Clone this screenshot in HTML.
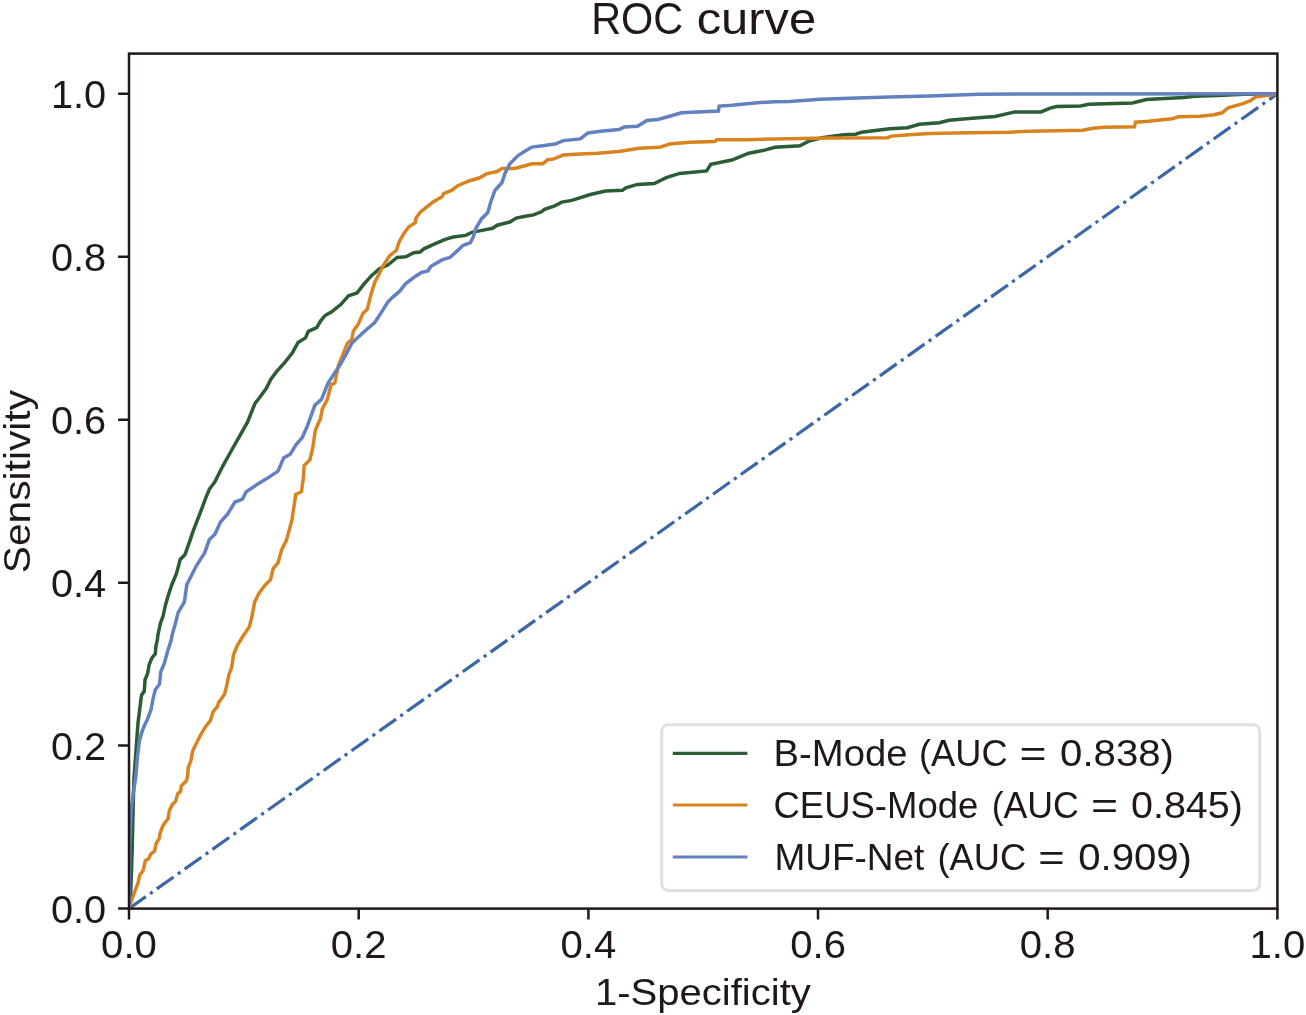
<!DOCTYPE html>
<html><head><meta charset="utf-8"><title>ROC curve</title>
<style>html,body{margin:0;padding:0;background:#fff;}body{width:1306px;height:1015px;overflow:hidden;}svg{display:block;will-change:transform;}</style>
</head><body>
<svg width="1306" height="1015" viewBox="0 0 1306 1015"><defs><clipPath id="ax"><rect x="129.0" y="53.6" width="1148.4" height="855.0"/></clipPath></defs>
<g clip-path="url(#ax)" fill="none" stroke-linejoin="miter" stroke-linecap="butt">
<line x1="129.0" y1="908.6" x2="1277.4" y2="93.8" stroke="#3a67a5" stroke-width="3.2" stroke-dasharray="20.6 5.15 3.2 5.15"/>
<polyline points="129.0,908.6 130.2,900.0 131.2,880.0 132.2,848.7 133.1,809.4 133.9,779.5 136.0,750.5 138.0,722.9 140.1,706.3 141.5,695.2 144.3,691.1 145.0,680.0 147.7,673.1 149.1,664.9 151.9,658.0 155.3,653.8 156.0,645.5 157.4,640.0 157.8,635.5 160.5,623.0 163.1,616.0 165.5,605.0 168.1,596.0 171.8,584.7 176.5,573.5 180.2,559.5 184.9,554.8 189.6,541.7 193.4,530.4 199.9,513.6 205.5,498.6 209.3,489.3 214.9,481.8 222.4,466.8 231.7,450.0 239.2,436.8 247.5,422.2 255.0,403.4 258.7,398.8 266.2,388.5 270.9,379.1 276.5,371.6 284.9,362.3 292.4,352.9 298.0,342.6 305.5,337.9 308.3,331.4 316.7,327.7 320.5,321.1 325.1,315.5 331.7,311.8 341.0,304.3 348.5,295.8 357.0,293.0 363.5,284.6 371.0,276.2 379.4,268.7 387.8,265.0 397.1,257.5 405.8,256.7 413.7,252.8 420.0,252.0 423.9,248.8 434.2,244.1 445.2,239.4 453.1,237.0 465.7,235.4 472.0,232.3 484.6,229.9 492.5,228.3 497.2,225.2 509.9,222.0 516.2,218.1 524.0,216.5 533.5,214.9 541.4,211.8 544.5,209.4 554.0,206.2 561.7,202.1 571.8,200.4 590.4,194.5 605.5,191.1 622.4,190.3 625.8,187.8 637.5,184.4 654.4,183.6 666.2,177.7 679.7,173.4 706.6,170.9 710.8,164.2 731.9,160.0 748.7,153.2 765.6,149.9 775.0,147.3 799.9,145.7 809.8,140.7 821.8,137.7 843.7,134.7 855.6,134.2 861.6,132.2 889.5,128.8 907.4,127.8 919.3,124.2 939.2,122.8 949.2,120.2 969.1,118.4 995.0,116.4 1014.9,111.9 1040.9,111.9 1050.9,107.9 1056.9,106.5 1080.7,105.9 1088.7,104.3 1132.5,102.9 1146.4,99.5 1164.4,98.5 1184.3,97.5 1194.2,96.3 1218.1,95.5 1244.0,94.3 1277.4,93.8" stroke="#2b5c33" stroke-width="3.5"/>
<polyline points="129.0,908.6 131.1,901.7 134.6,891.8 138.2,882.6 139.6,875.5 143.1,870.5 145.4,860.7 148.7,858.6 150.8,854.2 154.6,851.0 156.2,843.4 159.5,838.0 160.0,833.6 162.7,826.1 164.9,822.8 168.2,818.5 169.2,810.9 172.5,804.4 175.7,801.2 177.9,793.6 180.6,791.4 181.2,786.0 186.6,780.6 187.7,775.2 188.2,767.6 190.9,760.5 192.7,750.8 195.3,745.5 200.6,734.8 206.0,725.9 210.4,720.6 213.1,711.8 217.5,706.4 218.4,702.9 224.6,694.0 226.4,686.9 229.0,674.5 231.7,667.4 233.5,655.0 237.0,646.1 242.3,637.3 249.4,626.6 252.1,616.0 254.6,602.1 259.3,592.8 264.9,585.3 270.5,579.7 273.3,568.4 278.0,562.8 281.7,549.7 286.4,540.4 292.0,519.8 293.9,506.7 295.8,494.5 301.4,491.7 303.3,478.6 304.2,465.5 309.8,459.9 312.6,448.7 315.4,430.0 320.5,418.4 322.3,409.0 327.4,399.4 331.1,384.6 334.8,383.1 338.5,365.3 342.2,356.5 347.4,343.2 351.8,339.5 353.3,331.3 358.4,323.9 362.9,313.6 367.3,309.1 371.0,294.4 374.7,282.5 379.2,273.7 382.8,266.3 389.5,255.9 396.3,250.4 399.5,240.9 404.2,233.0 408.9,226.7 415.2,222.8 416.0,218.1 420.0,212.5 427.8,206.2 432.6,202.3 442.0,196.8 443.6,193.6 451.5,190.5 457.8,185.7 468.9,181.0 479.9,177.8 486.2,173.9 497.2,171.5 502.0,168.4 514.6,168.4 524.0,166.0 531.9,163.7 543.0,163.7 547.7,159.7 554.0,158.9 563.4,154.9 580.3,154.1 597.1,153.2 619.0,151.5 639.2,148.2 659.4,147.3 669.6,144.0 689.8,142.3 715.0,141.4 716.7,139.8 747.0,139.8 775.0,138.9 829.7,138.1 887.5,137.7 891.4,136.1 909.4,134.7 929.3,133.4 969.1,132.8 1008.9,132.2 1030.0,131.2 1082.7,130.2 1092.7,128.2 1104.6,127.2 1134.5,126.8 1135.5,122.2 1148.4,121.2 1172.3,118.8 1178.3,116.8 1200.2,116.2 1214.1,114.8 1222.1,112.8 1228.1,107.9 1242.0,103.9 1250.0,100.9 1255.9,96.9 1273.9,94.5 1277.4,93.8" stroke="#d8831f" stroke-width="3.5"/>
<polyline points="129.0,908.6 129.4,880.0 129.7,848.7 131.3,809.4 133.2,793.6 135.8,777.0 137.4,757.4 139.4,740.8 142.2,731.2 145.0,724.3 147.7,718.7 151.2,709.1 153.2,698.0 155.3,689.7 159.5,684.2 160.8,671.8 164.3,663.5 167.7,651.0 171.2,640.0 172.0,635.5 175.5,623.0 178.2,612.4 184.4,601.8 186.8,584.7 196.2,566.0 204.6,552.9 209.3,539.8 214.9,534.2 220.5,522.0 227.5,514.2 235.0,502.0 242.5,499.2 246.2,491.7 257.4,484.3 266.8,478.6 278.0,471.2 283.6,458.1 290.2,454.3 295.8,445.0 302.3,437.5 307.4,425.9 314.9,405.3 321.5,399.4 328.1,383.1 334.8,372.7 340.7,363.9 346.6,353.5 351.8,343.2 362.9,332.8 374.7,322.5 380.6,313.6 388.0,301.8 392.5,297.3 399.5,291.4 405.8,283.5 415.2,276.4 421.5,272.5 427.8,270.9 431.0,266.2 442.0,259.9 449.9,257.5 457.8,250.4 462.5,245.7 470.4,242.5 473.6,236.2 475.9,228.3 481.5,218.9 487.8,212.5 490.9,201.5 494.9,190.5 502.0,182.6 505.1,173.1 509.9,163.7 517.7,155.8 524.0,151.8 531.9,147.1 544.5,145.5 555.0,144.0 563.4,140.6 580.3,138.9 587.9,133.0 600.5,131.3 619.0,129.6 624.1,127.1 637.5,126.3 646.8,120.4 657.8,119.5 669.6,116.2 681.3,112.8 718.4,111.1 719.2,106.1 731.9,105.2 757.2,102.7 775.0,101.8 789.9,101.5 819.8,99.3 849.6,98.3 889.5,96.9 929.3,95.9 979.0,94.3 1030.0,93.9 1277.4,93.8" stroke="#6380c0" stroke-width="3.5"/>
</g>
<rect x="129.0" y="53.6" width="1148.4" height="855.0" fill="none" stroke="#1f1816" stroke-width="2.5"/>
<path d="M129.0 908.6V919.5M129.0 908.6H118.1M358.7 908.6V919.5M129.0 745.6H118.1M588.4 908.6V919.5M129.0 582.7H118.1M818.0 908.6V919.5M129.0 419.7H118.1M1047.7 908.6V919.5M129.0 256.8H118.1M1277.4 908.6V919.5M129.0 93.8H118.1" stroke="#1f1816" stroke-width="2.5" fill="none"/>
<g fill="#1f1816" font-family="'Liberation Sans', sans-serif">
<text x="101.1" y="958.0" font-size="38.5" text-anchor="start" textLength="55.8" lengthAdjust="spacingAndGlyphs" >0.0</text>
<text x="50.9" y="922.6" font-size="38.5" text-anchor="start" textLength="55.2" lengthAdjust="spacingAndGlyphs" >0.0</text>
<text x="330.8" y="958.0" font-size="38.5" text-anchor="start" textLength="55.8" lengthAdjust="spacingAndGlyphs" >0.2</text>
<text x="50.9" y="759.6" font-size="38.5" text-anchor="start" textLength="55.2" lengthAdjust="spacingAndGlyphs" >0.2</text>
<text x="560.5" y="958.0" font-size="38.5" text-anchor="start" textLength="55.8" lengthAdjust="spacingAndGlyphs" >0.4</text>
<text x="50.9" y="596.7" font-size="38.5" text-anchor="start" textLength="55.2" lengthAdjust="spacingAndGlyphs" >0.4</text>
<text x="790.2" y="958.0" font-size="38.5" text-anchor="start" textLength="55.8" lengthAdjust="spacingAndGlyphs" >0.6</text>
<text x="50.9" y="433.7" font-size="38.5" text-anchor="start" textLength="55.2" lengthAdjust="spacingAndGlyphs" >0.6</text>
<text x="1019.8" y="958.0" font-size="38.5" text-anchor="start" textLength="55.8" lengthAdjust="spacingAndGlyphs" >0.8</text>
<text x="50.9" y="270.8" font-size="38.5" text-anchor="start" textLength="55.2" lengthAdjust="spacingAndGlyphs" >0.8</text>
<text x="1249.5" y="958.0" font-size="38.5" text-anchor="start" textLength="55.8" lengthAdjust="spacingAndGlyphs" >1.0</text>
<text x="50.9" y="107.8" font-size="38.5" text-anchor="start" textLength="55.2" lengthAdjust="spacingAndGlyphs" >1.0</text>
<text x="591.2" y="34.2" font-size="45.0" text-anchor="start" textLength="92.1" lengthAdjust="spacingAndGlyphs" >ROC</text>
<text x="696.7" y="34.2" font-size="45.0" text-anchor="start" textLength="119.5" lengthAdjust="spacingAndGlyphs" >curve</text>
<text x="594.9" y="1005.0" font-size="36.0" text-anchor="start" textLength="215.9" lengthAdjust="spacingAndGlyphs" >1-Specificity</text>
<g transform="translate(30.4 481.6) rotate(-90)"><text x="0.0" y="0.0" font-size="37.6" text-anchor="middle" textLength="183.2" lengthAdjust="spacingAndGlyphs" >Sensitivity</text></g>
</g>
<rect x="661.7" y="724.7" width="598" height="165.7" rx="6.5" ry="6.5" fill="#ffffff" stroke="#dfe0e0" stroke-width="3"/>
<line x1="672.8" y1="753.3" x2="747.4" y2="753.3" stroke="#2b5c33" stroke-width="3.2"/>
<line x1="672.8" y1="805.0" x2="747.4" y2="805.0" stroke="#d8831f" stroke-width="3.2"/>
<line x1="672.8" y1="857.0" x2="747.4" y2="857.0" stroke="#6380c0" stroke-width="3.2"/>
<g fill="#1f1816" font-family="'Liberation Sans', sans-serif">
<text x="773.5" y="765.5" font-size="36.0" text-anchor="start" textLength="134.0" lengthAdjust="spacingAndGlyphs" >B-Mode</text>
<text x="919.0" y="765.5" font-size="36.0" text-anchor="start" textLength="88.6" lengthAdjust="spacingAndGlyphs" >(AUC</text>
<text x="1019.6" y="765.5" font-size="36.0" text-anchor="start" textLength="27.0" lengthAdjust="spacingAndGlyphs" >=</text>
<text x="1060.1" y="765.5" font-size="36.0" text-anchor="start" textLength="113.8" lengthAdjust="spacingAndGlyphs" >0.838)</text>
<text x="773.5" y="817.7" font-size="36.0" text-anchor="start" textLength="204.8" lengthAdjust="spacingAndGlyphs" >CEUS-Mode</text>
<text x="991.7" y="817.7" font-size="36.0" text-anchor="start" textLength="87.2" lengthAdjust="spacingAndGlyphs" >(AUC</text>
<text x="1090.9" y="817.7" font-size="36.0" text-anchor="start" textLength="27.1" lengthAdjust="spacingAndGlyphs" >=</text>
<text x="1131.0" y="817.7" font-size="36.0" text-anchor="start" textLength="111.9" lengthAdjust="spacingAndGlyphs" >0.845)</text>
<text x="774.4" y="869.7" font-size="36.0" text-anchor="start" textLength="150.0" lengthAdjust="spacingAndGlyphs" >MUF-Net</text>
<text x="937.4" y="869.7" font-size="36.0" text-anchor="start" textLength="88.7" lengthAdjust="spacingAndGlyphs" >(AUC</text>
<text x="1038.2" y="869.7" font-size="36.0" text-anchor="start" textLength="26.5" lengthAdjust="spacingAndGlyphs" >=</text>
<text x="1078.2" y="869.7" font-size="36.0" text-anchor="start" textLength="113.8" lengthAdjust="spacingAndGlyphs" >0.909)</text>
</g></svg>
</body></html>
